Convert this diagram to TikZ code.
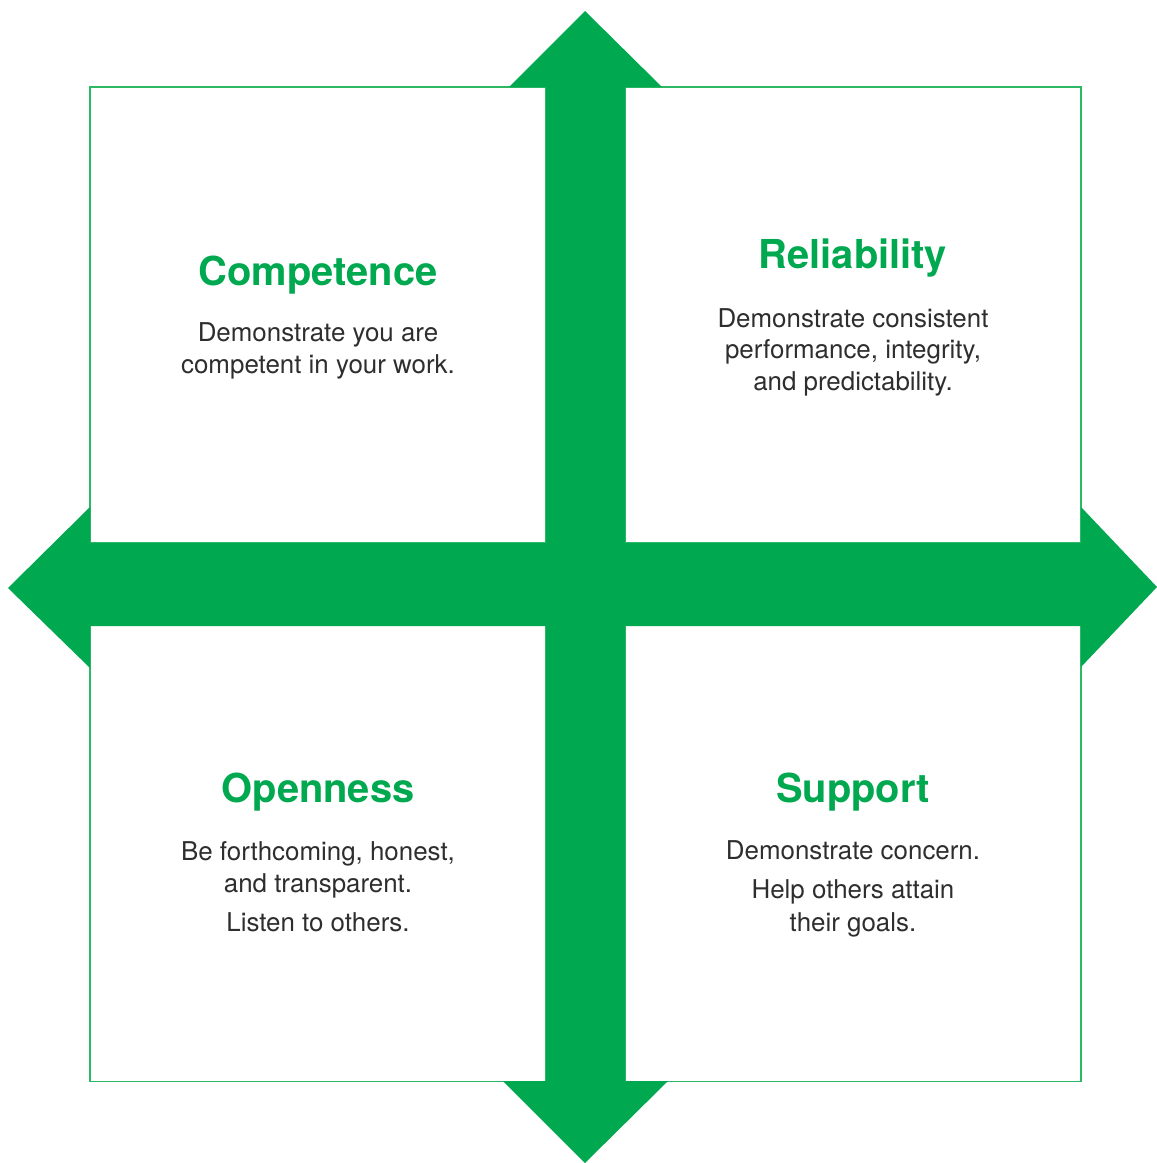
\documentclass[tikz,border=0pt]{standalone}
\usepackage{fontspec}
\setmainfont{TeX Gyre Heros}
\definecolor{arrowgreen}{HTML}{00A84F}
\definecolor{framegreen}{HTML}{2DB865}
\definecolor{textgray}{HTML}{2E2E2E}
\begin{document}
\begin{tikzpicture}[x=1bp,y=-1bp,
  quadrant/.style={draw=framegreen,line width=1.3bp,fill=white,
    minimum width=456bp,minimum height=456bp,inner sep=0pt},
  title/.style={anchor=base,inner sep=0pt,text=arrowgreen,
    font=\fontsize{40}{44}\selectfont\bfseries},
  body/.style={anchor=base,inner sep=0pt,text=textgray,
    font=\fontsize{26}{30}\selectfont}]
\useasboundingbox (0,0) rectangle (1157,1163);

% four framed quadrants
\node[quadrant] (tl) at (318,315) {};
\node[quadrant] (tr) at (853,315) {};
\node[quadrant] (bl) at (318,853.5) {};
\node[quadrant] (br) at (853,853.5) {};

% four-way arrow cross
\fill[arrowgreen]
  (585,11) -- (662,87) -- (625,87) -- (625,543) -- (1081,543) -- (1081,507)
  -- (1157,587) -- (1081,667) -- (1081,626) -- (625,626) -- (625,1081)
  -- (668,1081) -- (585,1163) -- (503,1081) -- (546,1081) -- (546,626)
  -- (90,626) -- (90,668) -- (8,588) -- (90,507) -- (90,543) -- (546,543)
  -- (546,87) -- (509,87) -- cycle;

% top left
\node[title] (t1) at (318,285) {Competence};
\node[body] (c1) at (318,341) {Demonstrate you are};
\node[body] (c2) at (318,373) {competent in your work.};

% top right
\node[title] (t2) at (853,268) {Reliability};
\node[body] (r1) at (853,327) {Demonstrate consistent};
\node[body] (r2) at (853,358.5) {performance, integrity,};
\node[body] (r3) at (853,390) {and predictability.};

% bottom left
\node[title] (t3) at (318,802) {Openness};
\node[body] (o1) at (318,860) {Be forthcoming, honest,};
\node[body] (o2) at (318,892) {and transparent.};
\node[body] (o3) at (318,931) {Listen to others.};

% bottom right
\node[title] (t4) at (853,802) {Support};
\node[body] (s1) at (853,859) {Demonstrate concern.};
\node[body] (s2) at (853,898) {Help others attain};
\node[body] (s3) at (853,931) {their goals.};
\end{tikzpicture}
\end{document}
